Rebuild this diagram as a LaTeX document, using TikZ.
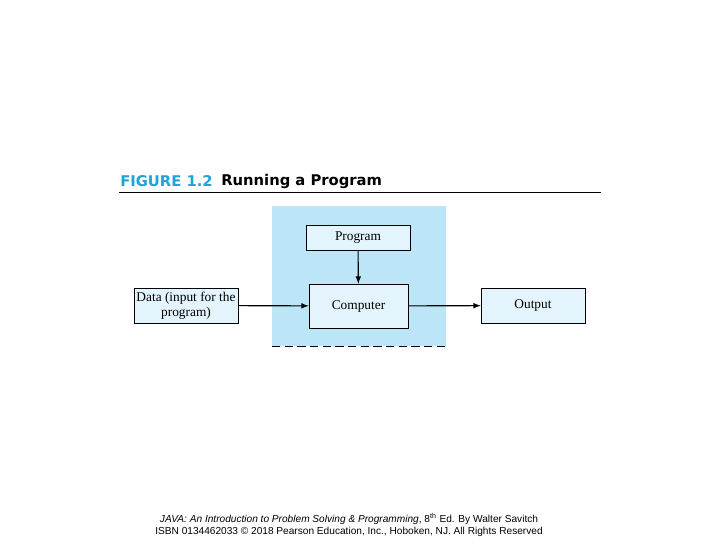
\documentclass[tikz,border=0pt]{standalone}
\usepackage{fontspec}
\setmainfont{Liberation Serif}
\setsansfont{Liberation Sans}
\newfontfamily\titlefont{DejaVu Sans}
\usetikzlibrary{positioning}
\definecolor{panelblue}{HTML}{BDE5F8}
\definecolor{boxblue}{HTML}{E3F4FC}
\definecolor{figblue}{HTML}{1FA3D8}
\tikzset{box/.style={draw=black,fill=boxblue,font=\fontsize{9.5}{10.5}\selectfont,align=center,inner sep=0pt},
	flow/.style={->,>=latex,thick}}
\begin{document}
\begin{tikzpicture}[x=0.025cm,y=-0.025cm]
	\useasboundingbox[fill=white] (0,0) rectangle (720,540);
	\node[anchor=west,font=\titlefont\bfseries\fontsize{10.5}{12}\selectfont,text=figblue,inner sep=0pt] (fig) at (120,181) {FIGURE 1.2};
	\node[anchor=west,font=\titlefont\bfseries\fontsize{10.5}{12}\selectfont,inner sep=0pt] (title) at (221,181) {Running a Program};
	\draw[line width=0.6pt] (119,192) -- (601,192);
	\fill[panelblue] (272,206) rectangle (446,346);
	\draw[dashed,dash pattern=on 6pt off 3pt] (272,346) -- (446,346);
	\node[box,minimum width=2.6cm,minimum height=0.625cm] (P) at (358,237.5) {Program};
	\node[box,minimum width=2.475cm,minimum height=1.1cm] (C) at (358.5,306) {Computer};
	\node[box,minimum width=2.6cm,minimum height=0.875cm] (D) at (186,305.5) {Data (input for the\\program)};
	\node[box,minimum width=2.6cm,minimum height=0.875cm] (O) at (533,305.5) {Output};
	\path [flow](P) edge node {} (C);
	\path [flow](D) edge node {} (C);
	\path [flow](C) edge node {} (O);
	\node[font=\sffamily\fontsize{7.2}{9}\selectfont,align=center,inner sep=0pt] (foot) at (349,525) {\textit{JAVA: An Introduction to Problem Solving \& Programming}, 8\textsuperscript{th} Ed. By Walter Savitch\\ISBN 0134462033 \textcopyright{} 2018 Pearson Education, Inc., Hoboken, NJ. All Rights Reserved};
\end{tikzpicture}
\end{document}
